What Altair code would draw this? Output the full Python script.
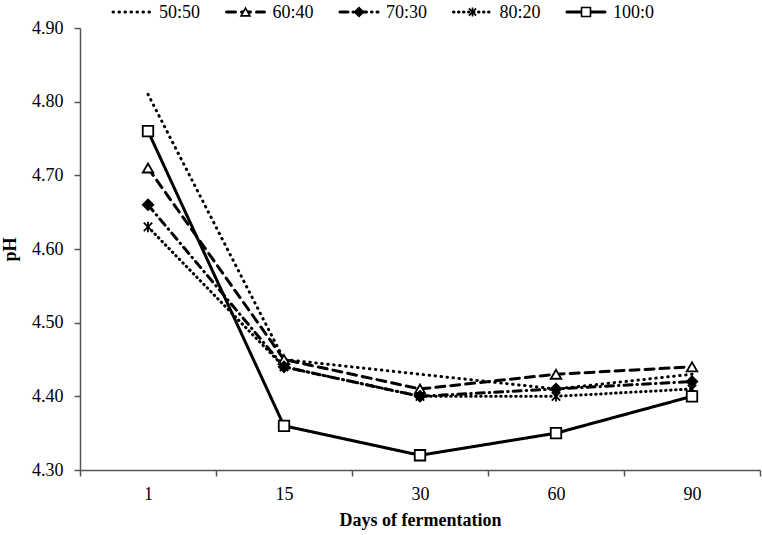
import altair as alt
import pandas as pd

days = ["1", "15", "30", "60", "90"]
series = ["50:50", "60:40", "70:30", "80:20", "100:0"]
ph_50_50 = [4.81, 4.45, 4.43, 4.41, 4.43]
ph_60_40 = [4.71, 4.45, 4.41, 4.43, 4.44]
ph_70_30 = [4.66, 4.44, 4.40, 4.41, 4.42]
ph_80_20 = [4.63, 4.44, 4.40, 4.40, 4.41]
ph_100_0 = [4.76, 4.36, 4.32, 4.35, 4.40]
y_ticks = [4.30, 4.40, 4.50, 4.60, 4.70, 4.80, 4.90]

values = [ph_50_50, ph_60_40, ph_70_30, ph_80_20, ph_100_0]
rows = []
for s, vals in zip(series, values):
    for d, v in zip(days, vals):
        rows.append({"series": s, "day": d, "ph": v})
df = pd.DataFrame(rows)
leg = pd.DataFrame({"series": series})

FONT = "Liberation Serif"
dash_range = [[0.5, 5.5], [9, 6], [8, 5, 0.5, 5], [0.5, 4.5], [1, 0]]
star = "M0,-1L0,1M-0.8,-0.8L0.8,0.8M-0.8,0.8L0.8,-0.8"
marker_series = ["60:40", "70:30", "80:20", "100:0"]
shape_range = ["triangle-up", "diamond", star, "square"]
fill_range = ["white", "black", "black", "white"]
size_range = [110, 110, 170, 110]
leg_size_range = [80, 80, 120, 80]

dash_scale = alt.Scale(domain=series, range=dash_range)
shape_scale = alt.Scale(domain=marker_series, range=shape_range)
fill_scale = alt.Scale(domain=marker_series, range=fill_range)

x_enc = alt.X(
    "day:N",
    sort=days,
    scale=alt.Scale(type="band", domain=days, paddingInner=0, paddingOuter=0),
    axis=alt.Axis(
        title="Days of fermentation",
        labelAngle=0,
        tickBand="extent",
        tickSize=6,
        labelPadding=9,
        titlePadding=8,
        labelFont=FONT,
        labelFontSize=18,
        titleFont=FONT,
        titleFontSize=18,
        titleFontWeight="bold",
        labelColor="black",
        titleColor="black",
        domainColor="#555",
        tickColor="#555",
        domainWidth=1.5,
        tickWidth=1.5,
        grid=False,
    ),
)
y_enc = alt.Y(
    "ph:Q",
    scale=alt.Scale(domain=[4.30, 4.90], nice=False, zero=False),
    axis=alt.Axis(
        title="pH",
        values=y_ticks,
        format=".2f",
        tickSize=6,
        labelPadding=11,
        titlePadding=12,
        labelFont=FONT,
        labelFontSize=18,
        titleFont=FONT,
        titleFontSize=18,
        titleFontWeight="bold",
        labelColor="black",
        titleColor="black",
        domainColor="#555",
        tickColor="#555",
        domainWidth=1.5,
        tickWidth=1.5,
        grid=False,
    ),
)

lines = alt.Chart(df).mark_line(color="black", strokeWidth=3, strokeCap="round").encode(
    x=x_enc,
    y=y_enc,
    detail="series:N",
    strokeDash=alt.StrokeDash("series:N", scale=dash_scale, legend=None),
)

points = alt.Chart(df).transform_filter(
    alt.FieldOneOfPredicate(field="series", oneOf=marker_series)
).mark_point(stroke="black", strokeWidth=1.8, opacity=1, filled=False).encode(
    x=alt.X("day:N", sort=days),
    y="ph:Q",
    shape=alt.Shape("series:N", scale=shape_scale, legend=None),
    fill=alt.Fill("series:N", scale=fill_scale, legend=None),
    size=alt.Size("series:N", scale=alt.Scale(domain=marker_series, range=size_range), legend=None),
)

main = alt.layer(lines, points)

leg_x = alt.X(
    "series:N",
    scale=alt.Scale(type="point", domain=series, range=[52, 506], padding=0),
    axis=None,
)

leg_lines = alt.Chart(leg).mark_rule(
    color="black", strokeWidth=3, strokeCap="round", xOffset=-19, x2Offset=19
).encode(
    x=leg_x,
    x2="series:N",
    y=alt.value(-16),
    strokeDash=alt.StrokeDash("series:N", scale=dash_scale, legend=None),
)

leg_points = alt.Chart(leg).transform_filter(
    alt.FieldOneOfPredicate(field="series", oneOf=marker_series)
).mark_point(stroke="black", strokeWidth=1.6, opacity=1, filled=False).encode(
    x=leg_x,
    y=alt.value(-16),
    shape=alt.Shape("series:N", scale=shape_scale, legend=None),
    fill=alt.Fill("series:N", scale=fill_scale, legend=None),
    size=alt.value(80),
)

leg_text = alt.Chart(leg).mark_text(
    align="left", baseline="middle", dx=27, font=FONT, fontSize=18, color="black"
).encode(
    x=leg_x,
    y=alt.value(-15),
    text="series:N",
)

legend = alt.layer(leg_lines, leg_points, leg_text)

chart = alt.layer(main, legend).resolve_scale(x="independent").properties(
    width=680,
    height=442,
    autosize="none",
    padding={"left": 80, "top": 28, "right": 2, "bottom": 65},
).configure_view(stroke=None)

chart.save("out.html", embed_options={"renderer": "svg", "actions": False})
